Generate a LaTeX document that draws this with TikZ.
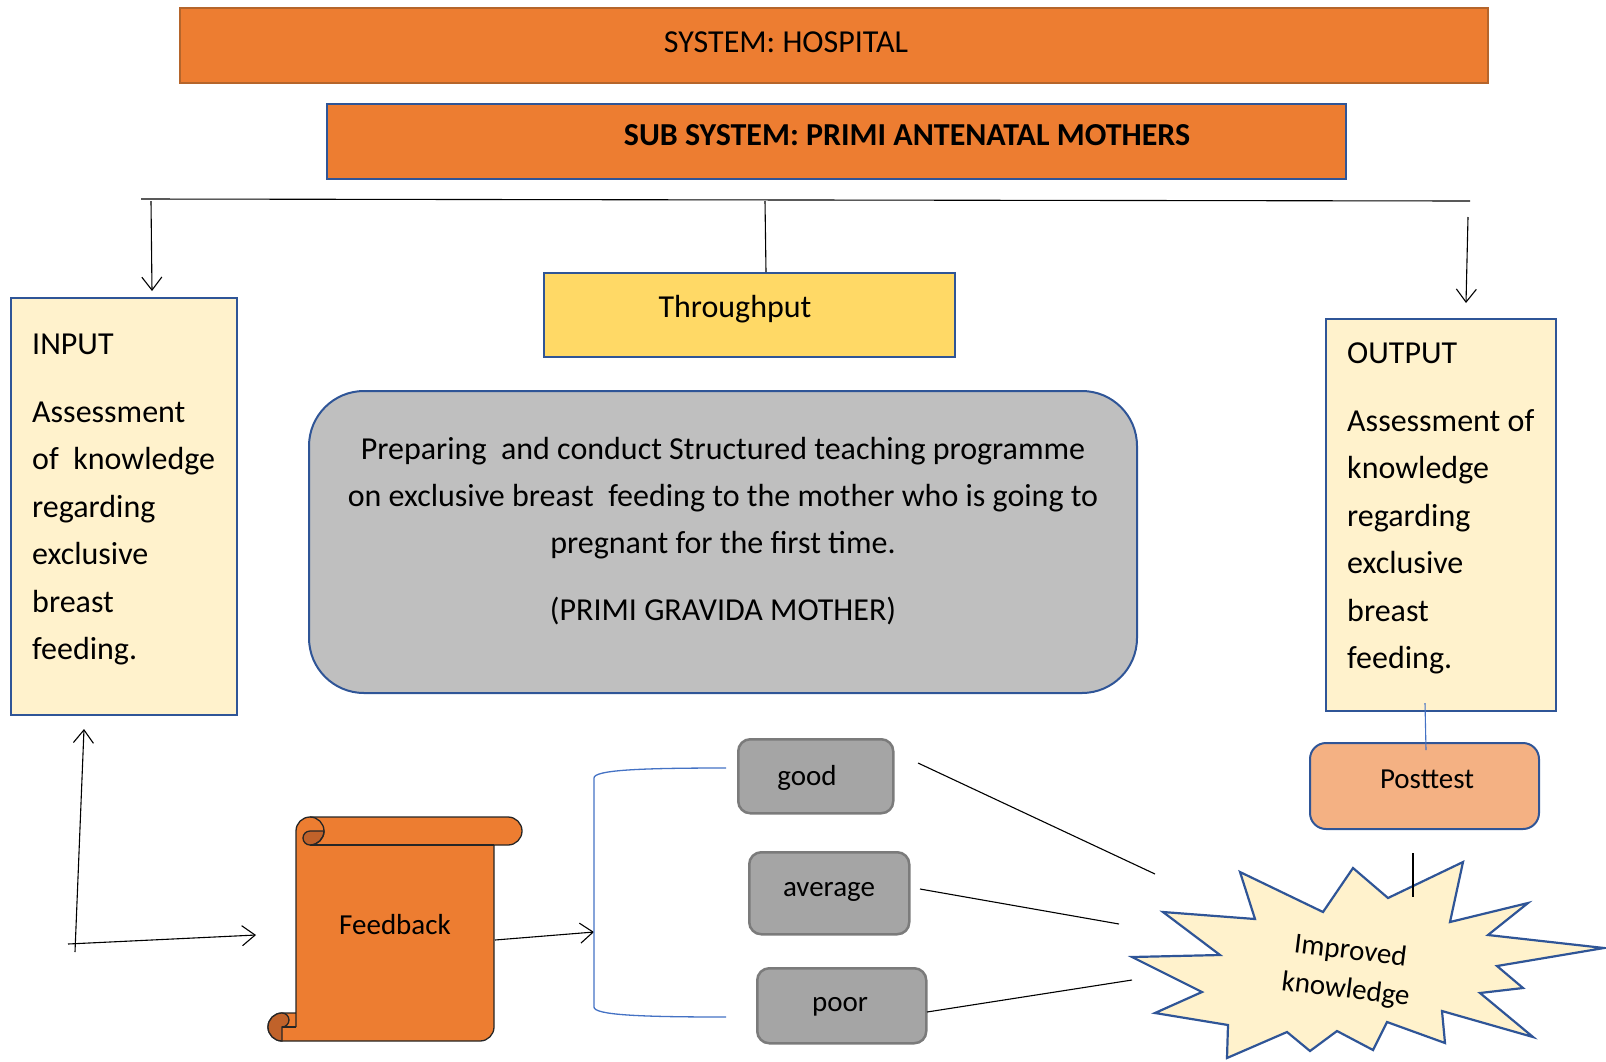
\documentclass[tikz,border=0pt]{standalone}
\usepackage{fontspec}
\setmainfont{Carlito}
\usetikzlibrary{arrows.meta}
\definecolor{orangefill}{HTML}{ED7D31}
\definecolor{orangeline}{HTML}{B5652B}
\definecolor{bdblue}{HTML}{2F5597}
\definecolor{lineblue}{HTML}{4472C4}
\definecolor{paleyellow}{HTML}{FFF2CC}
\definecolor{goldfill}{HTML}{FFD966}
\definecolor{lgray}{HTML}{BFBFBF}
\definecolor{dgray}{HTML}{A5A5A5}
\definecolor{dgrayline}{HTML}{7B7B7B}
\definecolor{peach}{HTML}{F4B183}
\definecolor{curl}{HTML}{C0622A}
\begin{document}
\begin{tikzpicture}[x=1pt,y=1pt,
  rect/.style={anchor=north west, inner sep=0pt, line width=2pt},
  bluebox/.style={rect, draw=bdblue},
  graybtn/.style={rect, fill=dgray, draw=dgrayline, line width=2.5pt, rounded corners=12pt},
  bigtext/.style={inner sep=0pt, font=\fontsize{32}{47.5}\selectfont},
  smalltext/.style={inner sep=0pt, font=\fontsize{29}{39}\selectfont},
  conn/.style={line width=1.1pt, black},
  arr/.style={conn, -{Straight Barb[length=13pt,width=20pt]}},
]
\useasboundingbox (0,0) rectangle (1606,-1061);

% top boxes
\node[rect, fill=orangefill, draw=orangeline, minimum width=1308pt, minimum height=75pt] (sys) at (179,-7) {};
\node[bigtext] (systext) at (786,-42) {SYSTEM: HOSPITAL};
\node[bluebox, fill=orangefill, minimum width=1019pt, minimum height=75pt] (sub) at (326,-103) {};
\node[bigtext, font=\fontsize{32}{47}\selectfont\bfseries] (subtext) at (907,-135) {SUB SYSTEM: PRIMI ANTENATAL MOTHERS};

% main boxes
\node[bluebox, fill=paleyellow, minimum width=226pt, minimum height=417pt] (input) at (10,-297) {};
\node[bigtext, anchor=north west, align=left] (inputtext) at (32,-334)
  {INPUT\\[20pt]Assessment\\of\ \ knowledge\\regarding\\exclusive\\breast\\feeding.};

\node[bluebox, fill=goldfill, minimum width=411pt, minimum height=84pt] (thru) at (543,-272) {};
\node[bigtext] (thrutext) at (735,-309) {Throughput};

\node[bluebox, fill=lgray, rounded corners=55pt, minimum width=828pt, minimum height=302pt] (prog) at (308,-390) {};
\node[bigtext, anchor=north, align=center, font=\fontsize{32}{47}\selectfont] (progtext) at (723,-437)
  {Preparing\ \ and conduct Structured teaching programme\\
   on exclusive breast\ \ feeding to the mother who is going to\\
   pregnant for the first time.\\[20pt]
   (PRIMI GRAVIDA MOTHER)};

\node[bluebox, fill=paleyellow, minimum width=230pt, minimum height=392pt] (output) at (1325,-318) {};
\node[bigtext, anchor=north west, align=left] (outputtext) at (1347,-343)
  {OUTPUT\\[20pt]Assessment of\\knowledge\\regarding\\exclusive\\breast\\feeding.};

\node[bluebox, fill=peach, rounded corners=16pt, minimum width=229pt, minimum height=86pt] (post) at (1309,-742) {};
\node[smalltext] (posttext) at (1427,-779) {Posttest};

% grade boxes
\node[graybtn, minimum width=155pt, minimum height=74pt] (good) at (737,-738) {};
\node[smalltext] (goodtext) at (807,-778) {good};
\node[graybtn, minimum width=160pt, minimum height=82pt] (avg) at (748,-851) {};
\node[smalltext] (avgtext) at (829,-892) {average};
\node[graybtn, minimum width=169pt, minimum height=75pt] (poor) at (756,-967) {};
\node[smalltext] (poortext) at (840,-1007) {poor};

% scroll (Feedback)
\begin{scope}[line width=1.3pt, draw=black!85]
\filldraw[fill=orangefill] (296,-1027) -- (296,-831) arc[start angle=180,end angle=90,radius=14pt]
  -- (508,-817) arc[start angle=90,end angle=-90,radius=14pt] -- (494,-845) -- (494,-1027)
  arc[start angle=0,end angle=-90,radius=14pt] -- (282,-1041)
  arc[start angle=270,end angle=90,radius=14pt] -- (296,-1013) -- cycle;
\draw (310,-845) -- (494,-845);
\filldraw[fill=curl] (310,-831) arc[start angle=90,end angle=270,radius=7pt]
  arc[start angle=-90,end angle=0,radius=14pt] -- cycle;
\draw (310,-817) arc[start angle=90,end angle=-90,radius=14pt];
\filldraw[fill=curl] (282,-1041) arc[start angle=-90,end angle=-270,radius=14pt]
  arc[start angle=90,end angle=-90,radius=7pt] -- cycle;
\draw (282,-1027) -- (296,-1027);
\end{scope}
\node[smalltext] (feedback) at (395,-925) {Feedback};

% starburst
\filldraw[fill=paleyellow, draw=bdblue, line width=2.2pt, line join=miter]
 (1240,-872) -- (1255,-919) -- (1163,-912) -- (1220,-955) -- (1132,-957) -- (1202,-992)
 -- (1155,-1013) -- (1228,-1025) -- (1227,-1058) -- (1287,-1032) -- (1310,-1051)
 -- (1337,-1031) -- (1373,-1050) -- (1387,-1022) -- (1445,-1043) -- (1442,-1011)
 -- (1533,-1037) -- (1480,-993) -- (1523,-988) -- (1497,-966) -- (1604,-948)
 -- (1488,-935) -- (1528,-903) -- (1450,-922) -- (1463,-862) -- (1388,-898)
 -- (1353,-868) -- (1323,-912) -- cycle;
\node[smalltext, align=center, rotate=-7] (improved) at (1348,-971) {Improved\\knowledge};

% connector coordinates
\coordinate (hl) at (141,-199);
\coordinate (hr) at (1470,-201);
\coordinate (inTop) at (151,-201);
\coordinate (inTip) at (152,-291);
\coordinate (midTop) at (765,-201);
\coordinate (midBot) at (766,-272);
\coordinate (outTop) at (1468,-217);
\coordinate (outTip) at (1466,-303);
\coordinate (vBot) at (75,-952);
\coordinate (vTip) at (84,-729);
\coordinate (hStart) at (68,-944);
\coordinate (hTip) at (256,-935);
\coordinate (fbOut) at (495,-940);
\coordinate (brTip) at (594,-932);
\coordinate (brTop) at (726,-768);
\coordinate (brBot) at (726,-1017);
\coordinate (gEnd) at (918,-763);
\coordinate (sA) at (1155,-874);
\coordinate (aEnd) at (920,-889);
\coordinate (sB) at (1119,-924);
\coordinate (pEnd) at (927,-1012);
\coordinate (sC) at (1132,-980);
\coordinate (ptTop) at (1425,-703);
\coordinate (ptBot) at (1426,-750);
\coordinate (stTop) at (1413,-853);
\coordinate (stBot) at (1413,-897);

% connectors
\draw[conn] (hl) -- (hr);
\draw[arr] (inTop) -- (inTip);
\draw[conn] (midTop) -- (midBot);
\draw[arr] (outTop) -- (outTip);
\draw[arr] (vBot) -- (vTip);
\draw[arr] (hStart) -- (hTip);
\draw[arr] (fbOut) -- (brTip);
\draw[lineblue, line width=1.3pt] (brTop) .. controls (640,-768) and (594,-770) .. (594,-778)
  -- (594,-1007) .. controls (594,-1015) and (640,-1017) .. (brBot);
\draw[conn] (gEnd) -- (sA);
\draw[conn] (aEnd) -- (sB);
\draw[conn] (pEnd) -- (sC);
\draw[lineblue, line width=1.1pt] (ptTop) -- (ptBot);
\draw[conn] (stTop) -- (stBot);
\end{tikzpicture}
\end{document}
